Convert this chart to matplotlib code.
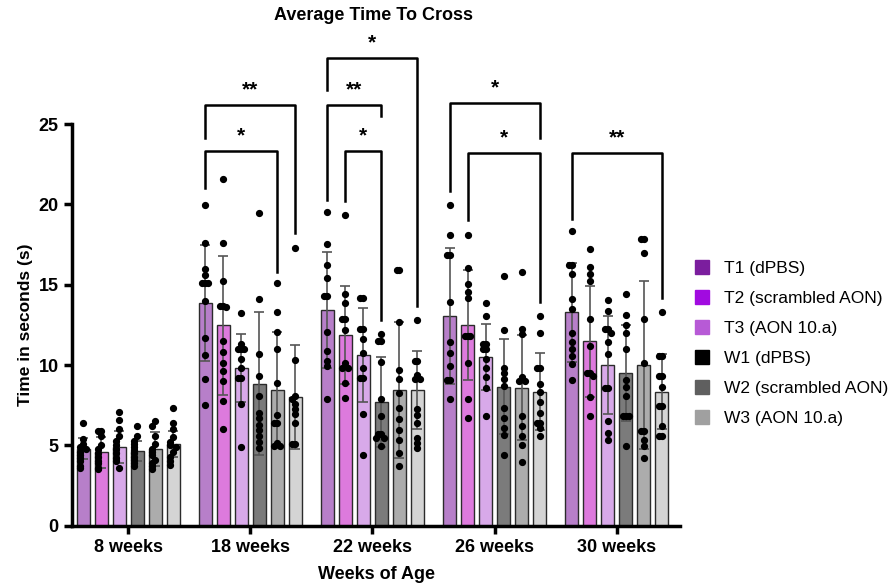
import numpy as np
import matplotlib.pyplot as plt
from matplotlib.lines import Line2D

plt.rcParams['font.family'] = ['Liberation Sans', 'DejaVu Sans']

# Data
ages = ['8 weeks', '18 weeks', '22 weeks', '26 weeks', '30 weeks']
groups = ['T1 (dPBS)', 'T2 (scrambled AON)', 'T3 (AON 10.a)',
          'W1 (dPBS)', 'W2 (scrambled AON)', 'W3 (AON 10.a)']

# mean per age (rows) x group (cols)
means = [
    [4.79, 4.56, 4.90, 4.63, 4.75, 5.09],
    [13.84, 12.48, 9.79, 8.84, 8.44, 8.00],
    [13.44, 11.88, 10.63, 7.71, 8.44, 8.44],
    [13.06, 12.50, 10.52, 8.65, 8.59, 8.33],
    [13.27, 11.48, 10.00, 9.52, 10.00, 8.33],
]
sds = [
    [0.67, 0.94, 1.02, 0.62, 1.05, 0.81],
    [3.60, 4.33, 2.12, 4.43, 3.63, 3.25],
    [3.62, 3.06, 2.93, 2.79, 4.21, 2.44],
    [4.23, 3.44, 2.06, 2.96, 3.27, 2.40],
    [3.06, 3.46, 3.04, 3.00, 5.23, 2.34],
]

points = [
    [
        [6.4, 5.4, 5.1, 4.9, 4.8, 4.6, 4.4, 4.2, 4.0, 3.7, 3.6],
        [5.9, 5.9, 5.6, 5.0, 4.8, 4.5, 4.3, 4.0, 3.9, 3.6, 3.5],
        [7.1, 6.6, 6.0, 5.6, 5.3, 5.0, 4.8, 4.5, 4.2, 4.0, 3.6],
        [6.2, 5.6, 5.3, 5.1, 4.9, 4.7, 4.5, 4.3, 4.1, 3.9, 3.7],
        [6.5, 6.2, 5.6, 5.1, 4.8, 4.6, 4.4, 4.1, 3.9, 3.7, 3.5],
        [7.3, 6.4, 6.0, 5.5, 5.2, 5.0, 4.9, 4.6, 4.3, 4.0, 3.8],
    ],
    [
        [19.95, 17.6, 16.0, 15.6, 15.1, 15.1, 15.1, 14.0, 11.7, 10.6, 9.1, 7.5],
        [21.6, 17.6, 15.25, 13.7, 13.7, 13.6, 11.5, 10.8, 10.15, 9.6, 9.0, 7.75, 6.0],
        [13.23, 11.3, 10.98, 10.98, 10.98, 10.4, 9.8, 9.2, 9.2, 7.55, 4.9],
        [19.46, 14.1, 10.67, 9.3, 8.07, 7.03, 6.7, 6.29, 5.98, 5.56, 5.19, 4.83],
        [15.1, 13.27, 12.07, 10.98, 8.9, 6.86, 6.4, 6.4, 5.15, 4.94, 4.94],
        [17.3, 10.3, 8.07, 7.86, 7.55, 7.24, 6.93, 6.4, 5.06, 5.06],
    ],
    [
        [19.52, 17.55, 16.23, 15.42, 14.28, 14.28, 12.07, 10.88, 10.25, 9.94, 7.9],
        [19.31, 14.4, 13.83, 12.85, 12.85, 12.19, 10.1, 9.83, 9.83, 8.86, 7.96],
        [14.2, 14.2, 12.23, 12.23, 11.65, 10.77, 9.83, 9.17, 9.17, 6.98, 4.42],
        [11.9, 11.5, 11.5, 10.19, 7.86, 6.81, 5.73, 5.73, 5.46, 5.46, 4.98],
        [15.92, 15.92, 12.65, 9.67, 9.1, 8.27, 7.33, 6.61, 5.98, 5.35, 4.52, 3.69],
        [12.81, 10.25, 10.25, 9.35, 9.15, 9.15, 7.24, 6.86, 6.4, 5.46, 5.15, 4.83],
    ],
    [
        [19.94, 18.07, 16.82, 16.82, 13.94, 11.44, 10.77, 9.94, 9.04, 9.04, 7.9],
        [18.11, 16.02, 15.04, 14.56, 14.15, 11.82, 11.82, 11.82, 10.1, 7.86, 6.71],
        [13.86, 13.06, 11.3, 11.3, 10.98, 10.98, 10.4, 9.83, 9.23, 8.59, 6.83],
        [15.52, 12.19, 9.83, 9.52, 9.1, 8.69, 7.33, 6.71, 6.08, 5.67, 4.42],
        [15.81, 12.25, 11.9, 9.23, 8.98, 8.98, 6.81, 6.19, 5.56, 5.04, 3.96],
        [13.06, 12.02, 9.79, 9.79, 8.81, 8.29, 7.67, 7.0, 6.4, 6.4, 6.1, 5.56],
    ],
    [
        [18.32, 16.23, 16.23, 15.67, 14.1, 13.48, 12.02, 11.44, 11.02, 10.56, 10.04, 9.06],
        [17.23, 16.08, 15.67, 15.25, 12.85, 11.19, 9.52, 9.52, 9.31, 8.02, 6.81],
        [14.07, 13.38, 12.23, 12.23, 12.02, 11.44, 10.67, 8.59, 8.59, 6.5, 5.77, 5.35],
        [14.4, 13.1, 12.52, 12.02, 10.98, 9.06, 8.65, 8.07, 6.81, 6.81, 6.81, 4.94],
        [17.86, 17.86, 16.96, 12.85, 10.15, 5.88, 5.88, 5.35, 4.94, 4.21],
        [13.31, 10.56, 10.56, 9.31, 9.31, 8.65, 7.44, 7.44, 6.23, 5.56, 5.56],
    ],
]

# significance brackets: (age index, left group, right group, bar height, left leg end, right leg end, label)
brackets = [
    (1, 0, 4, 23.3, 21.0, 15.8, '*'),
    (1, 0, 5, 26.2, 24.1, 18.2, '**'),
    (2, 1, 3, 23.3, 20.2, 12.8, '*'),
    (2, 0, 3, 26.2, 20.3, 25.5, '**'),
    (2, 0, 5, 29.1, 27.1, 13.7, '*'),
    (3, 1, 5, 23.2, 19.0, 13.9, '*'),
    (3, 0, 5, 26.3, 20.8, 24.1, '*'),
    (4, 0, 5, 23.2, 19.1, 14.2, '**'),
]

bar_colors = ['#B77FC9', '#DD7ADD', '#D8A9E9', '#7B7B7B', '#ACACAC', '#D4D4D4']
legend_colors = ['#7B1E9E', '#A10BE0', '#B75AD6', '#000000', '#5F5F5F', '#A0A0A0']

fig = plt.figure(figsize=(8.95, 5.85), dpi=100)
ax = fig.add_axes([0.0804, 0.1014, 0.6796, 0.6866])

step = 0.1475
width = 0.107
centers = np.arange(len(ages))

def swarm(vals, x0):
    # spread points sitting close together sideways
    xs = []
    placed = []
    for v in vals:
        n = sum(1 for p in placed if abs(p - v) < 0.3)
        off = [0, -1, 1, -2, 2][min(n, 4)] * 0.024
        xs.append(x0 + off)
        placed.append(v)
    return xs

for a in range(len(ages)):
    for g in range(len(groups)):
        x = centers[a] + (g - 2.5) * step
        ax.bar(x, means[a][g], width=width, color=bar_colors[g],
               edgecolor='#2b2b2b', linewidth=1.0, zorder=2)
        ax.errorbar(x, means[a][g], yerr=sds[a][g], color='#555555',
                    capsize=3.5, elinewidth=1.2, capthick=1.2, zorder=3)
        ax.plot(swarm(points[a][g], x), points[a][g], 'o', color='black',
                markersize=4.2, zorder=4)

for a, i, j, yb, yl, yr, lab in brackets:
    x1 = centers[a] + (i - 2.5) * step
    x2 = centers[a] + (j - 2.5) * step
    ax.plot([x1, x1, x2, x2], [yl, yb, yb, yr], color='black', lw=1.8,
            clip_on=False, zorder=5)
    ax.text((x1 + x2) / 2, yb + 0.35, lab, ha='center', va='bottom',
            fontsize=15, fontweight='bold', clip_on=False)

ax.set_xlim(-0.46, 4.52)
ax.set_ylim(0, 25)
ax.set_yticks([0, 5, 10, 15, 20, 25])
ax.set_xticks(centers)
ax.set_xticklabels(ages)
for s in ['top', 'right']:
    ax.spines[s].set_visible(False)
for s in ['left', 'bottom']:
    ax.spines[s].set_linewidth(2.5)
ax.tick_params(width=2.5, length=6, labelsize=13)
for t in ax.get_xticklabels() + ax.get_yticklabels():
    t.set_fontweight('bold')

ax.set_ylabel('Time in seconds (s)', fontsize=12.5, fontweight='bold', labelpad=4)
ax.set_xlabel('Weeks of Age', fontsize=13, fontweight='bold', labelpad=7)
fig.text(0.417, 0.974, 'Average Time To Cross', ha='center', va='center',
         fontsize=13, fontweight='bold')

handles = [Line2D([], [], marker='s', linestyle='none', markersize=10,
                  color=c) for c in legend_colors]
fig.legend(handles, groups, loc='upper left', bbox_to_anchor=(0.757, 0.58),
           frameon=False, fontsize=12.5, labelspacing=0.85, handletextpad=0.8,
           handlelength=1.0)

fig.savefig('out.png', dpi=100)
